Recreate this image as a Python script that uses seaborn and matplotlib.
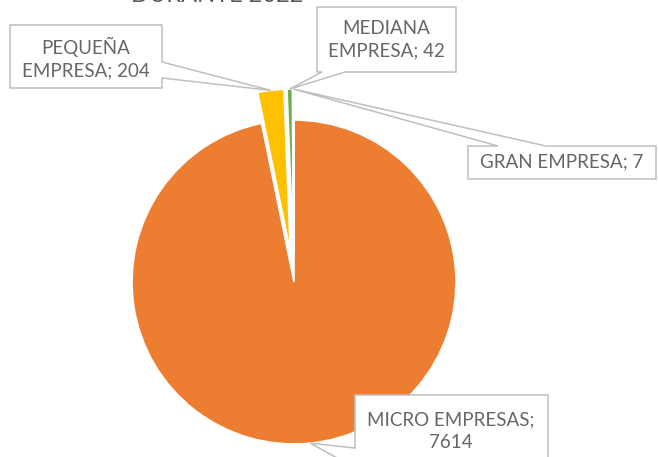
import numpy as np
import matplotlib.pyplot as plt
import seaborn as sns
from matplotlib.patches import Polygon

# Datos
categorias = ['MICRO EMPRESAS', 'PEQUEÑA EMPRESA', 'MEDIANA EMPRESA', 'GRAN EMPRESA']
empresas = [7614, 204, 42, 7]
etiquetas = ['MICRO EMPRESAS;\n7614', 'PEQUEÑA\nEMPRESA; 204', 'MEDIANA\nEMPRESA; 42', 'GRAN EMPRESA; 7']
colores = ['#ED7D31', '#FFC000', '#70AD47', '#5B9BD5']
titulo = 'DURANTE 2022'

sns.set_theme(style='white')
plt.rcParams['font.family'] = ['Lato', 'DejaVu Sans']

W, H = 658, 457
fig = plt.figure(figsize=(W / 100, H / 100), dpi=100)
ax = fig.add_axes([0, 0, 1, 1])

# pie en coordenadas de pixel (y hacia arriba)
cx, cy, R = 294, H - 282, 162
wedges, _ = ax.pie(empresas, colors=colores, startangle=90, counterclock=False,
                   explode=[0, 31, 31, 31], radius=R, center=(cx, cy),
                   wedgeprops=dict(edgecolor='white', linewidth=1.2))
ax.set_xlim(0, W)
ax.set_ylim(0, H)
ax.set_aspect('auto')
ax.axis('off')

# cajas de etiqueta (x0, y0, x1, y1 con y desde arriba), lado del puntero, base, centro del texto
cajas = [(355, 395, 548, 475), (10, 25, 162, 88), (317, 7, 456, 72), (468, 146, 656, 179)]
lados = ['left', 'right', 'bottom', 'top']
bases = [(448, 468), (62, 78), (322, 345), (498, 546)]
centros = [(451, 431), (86, 58), (386, 40), (562, 162)]

gris_texto = '#666666'
gris_borde = '#BFBFBF'


def callout(w, caja, lado, base, centro, texto):
    tm = np.deg2rad((w.theta1 + w.theta2) / 2)
    tx = w.center[0] + w.r * np.cos(tm)
    ty = H - (w.center[1] + w.r * np.sin(tm))
    tip = (tx, ty)
    x0, y0, x1, y1 = caja
    b0, b1 = base
    if lado == 'top':
        pts = [(x0, y0), (b0, y0), tip, (b1, y0), (x1, y0), (x1, y1), (x0, y1)]
    elif lado == 'right':
        pts = [(x0, y0), (x1, y0), (x1, b0), tip, (x1, b1), (x1, y1), (x0, y1)]
    elif lado == 'bottom':
        pts = [(x0, y0), (x1, y0), (x1, y1), (b1, y1), tip, (b0, y1), (x0, y1)]
    else:
        pts = [(x0, y0), (x1, y0), (x1, y1), (x0, y1), (x0, b1), tip, (x0, b0)]
    pts = [(px, H - py) for px, py in pts]
    ax.add_patch(Polygon(pts, closed=True, facecolor='white', edgecolor=gris_borde,
                         linewidth=1.1, zorder=5))
    ax.text(centro[0], H - centro[1], texto, ha='center', va='center', fontsize=13.5,
            color=gris_texto, linespacing=1.4, zorder=6)


for w, caja, lado, base, centro, texto in zip(wedges, cajas, lados, bases, centros, etiquetas):
    callout(w, caja, lado, base, centro, texto)

# titulo (recortado arriba en la referencia)
fig.text(217 / W, 1 - 2 / H, titulo, ha='center', va='baseline', fontsize=17, color='#595959')

plt.savefig('out.png', dpi=100)
plt.close()
